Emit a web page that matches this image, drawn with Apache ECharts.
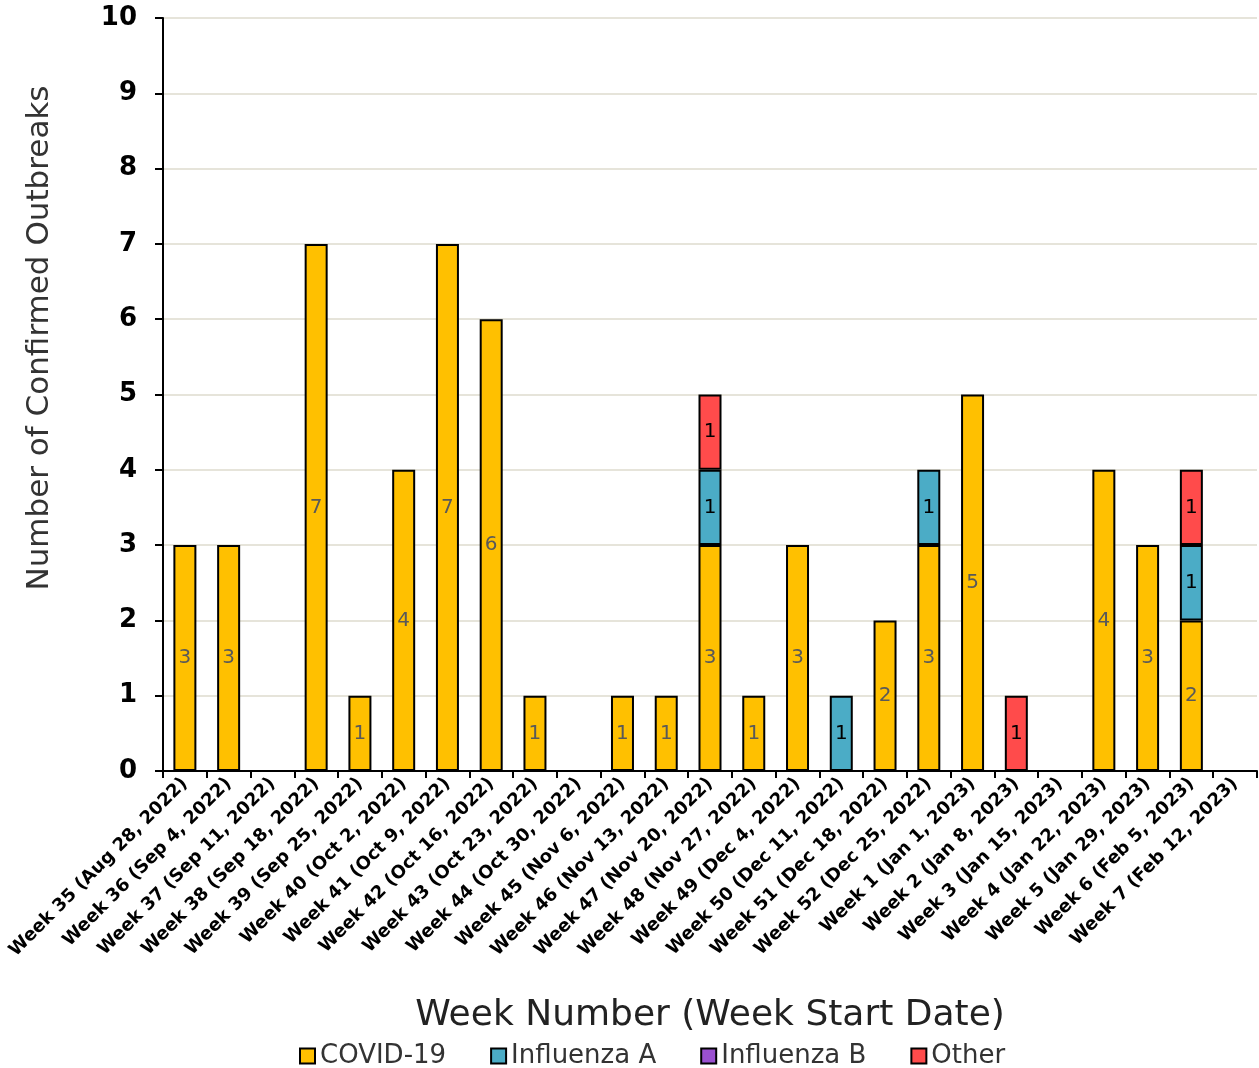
<!DOCTYPE html>
<html><head><meta charset="utf-8">
<script src="https://cdn.jsdelivr.net/npm/echarts@6/dist/echarts.min.js"></script>
<style>html,body{margin:0;padding:0;background:#fff}#c{width:1259px;height:1068px}</style>
</head><body><div id="c"></div>
<script>
const categories = ["Week 35 (Aug 28, 2022)","Week 36 (Sep 4, 2022)","Week 37 (Sep 11, 2022)","Week 38 (Sep 18, 2022)","Week 39 (Sep 25, 2022)","Week 40 (Oct 2, 2022)","Week 41 (Oct 9, 2022)","Week 42 (Oct 16, 2022)","Week 43 (Oct 23, 2022)","Week 44 (Oct 30, 2022)","Week 45 (Nov 6, 2022)","Week 46 (Nov 13, 2022)","Week 47 (Nov 20, 2022)","Week 48 (Nov 27, 2022)","Week 49 (Dec 4, 2022)","Week 50 (Dec 11, 2022)","Week 51 (Dec 18, 2022)","Week 52 (Dec 25, 2022)","Week 1 (Jan 1, 2023)","Week 2 (Jan 8, 2023)","Week 3 (Jan 15, 2023)","Week 4 (Jan 22, 2023)","Week 5 (Jan 29, 2023)","Week 6 (Feb 5, 2023)","Week 7 (Feb 12, 2023)"];
const covid19    = [3,3,0,7,1,4,7,6,1,0,1,1,3,1,3,0,2,3,5,0,0,4,3,2,0];
const influenzaA = [0,0,0,0,0,0,0,0,0,0,0,0,1,0,0,1,0,1,0,0,0,0,0,1,0];
const influenzaB = [0,0,0,0,0,0,0,0,0,0,0,0,0,0,0,0,0,0,0,0,0,0,0,0,0];
const other      = [0,0,0,0,0,0,0,0,0,0,0,0,1,0,0,0,0,0,0,1,0,0,0,1,0];
const yTicks = [0,1,2,3,4,5,6,7,8,9,10];

const FONT = 'DejaVu Sans';
const toData = a => a.map(v => v === 0 ? null : v);
function mk(name, arr, color, labelColor) {
  return {
    name, type: 'bar', stack: 'total', data: toData(arr), barWidth: 23,
    itemStyle: { color, borderColor: '#000', borderWidth: 2 },
    label: { show: true, position: 'inside', color: labelColor, fontFamily: 'DejaVu Sans', fontSize: 20 },
    emphasis: { disabled: true }
  };
}
const chart = echarts.init(document.getElementById('c'), null, { renderer: 'canvas' });
chart.setOption({
  animation: false,
  backgroundColor: '#fff',
  grid: { left: 163, right: 2, top: 18, bottom: 297, containLabel: false },
  legend: {
    top: 1038, left: 294, itemWidth: 15, itemHeight: 15, itemGap: 44,
    icon: 'rect',
    textStyle: { fontFamily: FONT, fontSize: 26, color: '#333' },
    itemStyle: { borderColor: '#000', borderWidth: 2 },
    data: ['COVID-19','Influenza A','Influenza B','Other']
  },
  xAxis: {
    type: 'category', data: categories,
    name: 'Week Number (Week Start Date)', nameLocation: 'middle', nameGap: 227,
    nameTextStyle: { fontFamily: FONT, fontSize: 36, color: '#222' },
    axisLine: { lineStyle: { color: '#000', width: 2 } },
    axisTick: { show: true, length: 7, lineStyle: { color: '#000', width: 2 } },
    axisLabel: { rotate: 45, interval: 0, fontFamily: FONT, fontWeight: 'bold', fontSize: 18, color: '#000', margin: 10 }
  },
  yAxis: {
    type: 'value', min: 0, max: 10, interval: 1,
    axisLine: { show: true, lineStyle: { color: '#000', width: 2 } },
    axisTick: { show: true, length: 8, lineStyle: { color: '#000', width: 2 } },
    axisLabel: { fontFamily: FONT, fontWeight: 'bold', fontSize: 26, color: '#000', margin: 26,
      formatter: v => yTicks.includes(v) ? String(v) : '' },
    splitLine: { lineStyle: { color: '#E6E4DA', width: 2 } }
  },
  graphic: [{
    type: 'text', rotation: Math.PI / 2, x: 40, y: 338,
    style: { text: 'Number of Confirmed Outbreaks', font: '31px "DejaVu Sans"', fill: '#333', textAlign: 'center', textVerticalAlign: 'middle' }
  }],
  series: [
    mk('COVID-19', covid19, '#FFC000', '#595959'),
    mk('Influenza A', influenzaA, '#4BACC6', '#000'),
    mk('Influenza B', influenzaB, '#9A50D0', '#000'),
    mk('Other', other, '#FF4B4B', '#000')
  ]
});
</script></body></html>
